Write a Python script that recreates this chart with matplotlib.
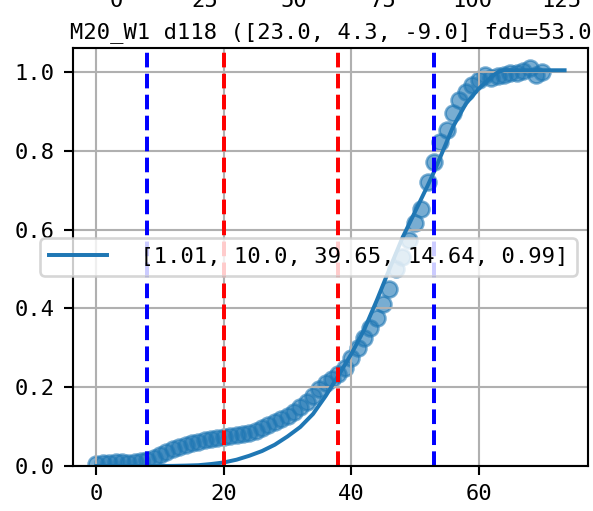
import matplotlib
matplotlib.use("Agg")
import matplotlib.pyplot as plt

plt.rcParams['font.family'] = ['DejaVu Sans Mono']
plt.rcParams['font.size'] = 8.4

# ---- data ----
obs_x = list(range(0, 71))
obs_y = [0.005, 0.008, 0.007, 0.009, 0.010, 0.008, 0.010, 0.012, 0.015, 0.021,
         0.027, 0.035, 0.043, 0.049, 0.054, 0.058, 0.062, 0.065, 0.068, 0.071,
         0.074, 0.076, 0.078, 0.080, 0.085, 0.090, 0.097, 0.104, 0.112, 0.120,
         0.128, 0.137, 0.150, 0.163, 0.178, 0.195, 0.210, 0.222, 0.233, 0.248,
         0.275, 0.300, 0.325, 0.350, 0.375, 0.412, 0.450, 0.500, 0.530, 0.574,
         0.618, 0.653, 0.720, 0.772, 0.822, 0.854, 0.896, 0.930, 0.950, 0.968,
         0.981, 0.994, 0.986, 0.990, 0.994, 0.999, 0.998, 1.003, 1.011, 0.994,
         1.001]

fit_x = [0, 10, 12, 14, 16, 18, 20, 22, 24, 26, 28, 30, 32, 34, 36, 38, 40, 42,
         44, 46, 48, 50, 52, 53, 54, 56, 58, 60, 62, 63, 64, 73.5]
fit_y = [0, 0, 0.0003, 0.001, 0.002, 0.005, 0.009, 0.016, 0.026, 0.038, 0.054,
         0.075, 0.099, 0.132, 0.178, 0.230, 0.284, 0.345, 0.420, 0.500, 0.578,
         0.645, 0.712, 0.747, 0.785, 0.862, 0.920, 0.958, 0.988, 1.000, 1.005,
         1.005]
fit_label = " [1.01, 10.0, 39.65, 14.64, 0.99]"

blue_lines = [8, 53]
red_lines = [20, 38]

title = "M20_W1 d118 ([23.0, 4.3, -9.0] fdu=53.0"

# ticks of the panel above (only partially visible)
upper_ticks = [0, 25, 50, 75, 100, 125]
upper_xlim = (-12.06, 132.4)

# ---- figure ----
W, H, DPI = 593, 511, 190
fig = plt.figure(figsize=(W / DPI, H / DPI), dpi=DPI)
ax = fig.add_axes([73 / W, 1 - 466 / H, (588 - 73) / W, (466 - 48) / H])

ax.scatter(obs_x, obs_y, alpha=0.6, color='C0')
ax.plot(fit_x, fit_y, color='C0', label=fit_label)
for xv in blue_lines:
    ax.axvline(xv, color='b', linestyle='--')
for xv in red_lines:
    ax.axvline(xv, color='r', linestyle='--')

ax.grid(True)
ax.set_ylim(bottom=0)
ax.set_xticks([0, 20, 40, 60])
ax.set_title(title, pad=3.8, fontsize=8.4)
ax.legend(loc='center right', handlelength=2.6, handletextpad=0.9)

# panel above (cut off), only its tick labels reach into this figure
ax_up = fig.add_axes([73 / W, 1 + 27.5 / H, (588 - 73) / W, 0.3])
ax_up.set_xlim(*upper_xlim)
ax_up.set_xticks(upper_ticks)
ax_up.set_yticks([])
for s in ax_up.spines.values():
    s.set_visible(False)

fig.savefig("out.png", dpi=DPI)
